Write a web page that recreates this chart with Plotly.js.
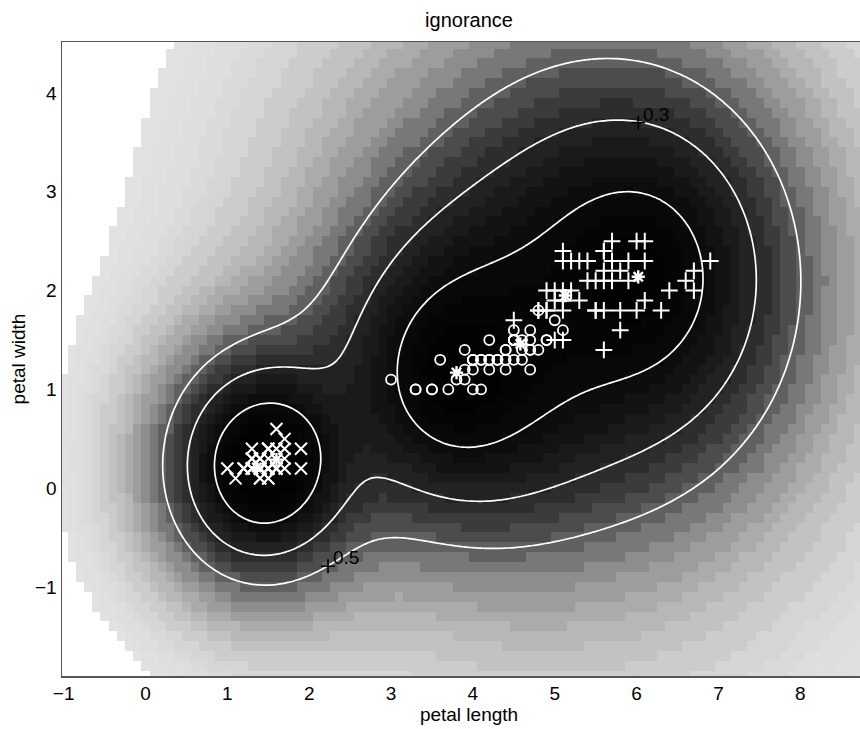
<!DOCTYPE html>
<html>
<head>
<meta charset="utf-8">
<script src="https://cdn.plot.ly/plotly-3.0.1.min.js"></script>
<style>
  html, body { margin: 0; padding: 0; overflow: hidden; background: #fff; }
  #chart { width: 876px; height: 729px; }
</style>
</head>
<body>
<div id="chart"></div>
<script>
// Iris petal measurements (cm), one pair of arrays per species
const setosaLength = [1.4,1.4,1.3,1.5,1.4,1.7,1.4,1.5,1.4,1.5,1.5,1.6,1.4,1.1,1.2,1.5,1.3,1.4,1.7,1.5,1.7,1.5,1.0,1.7,1.9,1.6,1.6,1.5,1.4,1.6,1.6,1.5,1.5,1.4,1.5,1.2,1.3,1.4,1.3,1.5,1.3,1.3,1.3,1.6,1.9,1.4,1.6,1.4,1.5,1.4];
const setosaWidth  = [0.2,0.2,0.2,0.2,0.2,0.4,0.3,0.2,0.2,0.1,0.2,0.2,0.1,0.1,0.2,0.4,0.4,0.3,0.3,0.3,0.2,0.4,0.2,0.5,0.2,0.2,0.4,0.2,0.2,0.2,0.2,0.4,0.1,0.2,0.2,0.2,0.2,0.1,0.2,0.2,0.3,0.3,0.2,0.6,0.4,0.3,0.2,0.2,0.2,0.2];
const versicolorLength = [4.7,4.5,4.9,4.0,4.6,4.5,4.7,3.3,4.6,3.9,3.5,4.2,4.0,4.7,3.6,4.4,4.5,4.1,4.5,3.9,4.8,4.0,4.9,4.7,4.3,4.4,4.8,5.0,4.5,3.5,3.8,3.7,3.9,5.1,4.5,4.5,4.7,4.4,4.1,4.0,4.4,4.6,4.0,3.3,4.2,4.2,4.2,4.3,3.0,4.1];
const versicolorWidth  = [1.4,1.5,1.5,1.3,1.5,1.3,1.6,1.0,1.3,1.4,1.0,1.5,1.0,1.4,1.3,1.4,1.5,1.0,1.5,1.1,1.8,1.3,1.5,1.2,1.3,1.4,1.4,1.7,1.5,1.0,1.1,1.0,1.2,1.6,1.5,1.6,1.5,1.3,1.3,1.3,1.2,1.4,1.2,1.0,1.3,1.2,1.3,1.3,1.1,1.3];
const virginicaLength = [6.0,5.1,5.9,5.6,5.8,6.6,4.5,6.3,5.8,6.1,5.1,5.3,5.5,5.0,5.1,5.3,5.5,6.7,6.9,5.0,5.7,4.9,6.7,4.9,5.7,6.0,4.8,4.9,5.6,5.8,6.1,6.4,5.6,5.1,5.6,6.1,5.6,5.5,4.8,5.4,5.6,5.1,5.1,5.9,5.7,5.2,5.0,5.2,5.4,5.1];
const virginicaWidth  = [2.5,1.9,2.1,1.8,2.2,2.1,1.7,1.8,1.8,2.5,2.0,1.9,2.1,2.0,2.4,2.3,1.8,2.2,2.3,1.5,2.3,2.0,2.0,1.8,2.1,1.8,1.8,1.8,2.1,1.6,1.9,2.0,2.2,1.5,1.4,2.3,2.4,1.8,1.8,2.1,2.4,2.3,1.9,2.3,2.5,2.3,1.9,2.0,2.3,1.8];

// Prototypes of the evidential classifier (two per class) and their kernel parameters
const protoX     = [1.36, 1.60, 3.80, 4.58, 5.13, 6.02];
const protoY     = [0.21, 0.29, 1.17, 1.46, 1.95, 2.14];
const protoAlpha = [1.0000, 1.0000, 1.0000, 0.3851, 0.6390, 0.9715];
const protoGamma = [0.5769, 2.6072, 0.4694, 0.6703, 0.0899, 0.3129];

// Iso-ignorance lines and where two of them are labelled
const contourLevels = [0.1, 0.3, 0.5];
const labelX = [6.02, 2.23];
const labelY = [3.70, -0.79];
const labelLevel = [0.3, 0.5];

// Grey shading: band upper bounds in ignorance, and the grey ramp (0 black, 1 white)
const bandTop = [0.03, 0.06, 0.10, 0.14, 0.19, 0.24, 0.30, 0.36, 0.42, 0.48, 0.54, 0.60,
                 0.65, 0.70, 0.74, 0.78, 0.82, 0.86, 0.89, 0.91, 0.93, 0.945, 0.955];
const rampZ    = [0, 0.10, 0.30, 0.40, 0.50, 0.60, 0.70, 0.80, 0.87, 0.92, 0.955];
const rampGrey = [0, 0.04, 0.15, 0.24, 0.36, 0.52, 0.65, 0.76, 0.83, 0.87, 0.89];

const xTicks = [-1, 0, 1, 2, 3, 4, 5, 6, 7, 8];
const yTicks = [-1, 0, 1, 2, 3, 4];

const FONT = 'Liberation Sans, Arial, Helvetica, sans-serif';

// Mass left on the whole frame: product of each prototype's ignorance term
function ignorance(x, y) {
  let m = 1;
  for (let i = 0; i < protoX.length; i++) {
    const dx = x - protoX[i], dy = y - protoY[i];
    m *= 1 - protoAlpha[i] * Math.exp(-protoGamma[i] * (dx * dx + dy * dy));
  }
  return m;
}

function grid(x0, x1, y0, y1, step) {
  const xs = [], ys = [];
  const nx = Math.round((x1 - x0) / step), ny = Math.round((y1 - y0) / step);
  for (let i = 0; i <= nx; i++) xs.push(+(x0 + i * step).toFixed(3));
  for (let j = 0; j <= ny; j++) ys.push(+(y0 + j * step).toFixed(3));
  return { xs, ys };
}

function rampAt(z) {
  for (let k = 1; k < rampZ.length; k++) {
    if (z <= rampZ[k]) {
      const t = (z - rampZ[k - 1]) / (rampZ[k] - rampZ[k - 1]);
      return rampGrey[k - 1] + t * (rampGrey[k] - rampGrey[k - 1]);
    }
  }
  return rampGrey[rampGrey.length - 1];
}

// coarse cells for the shaded image; beyond the last band the paper shows through
const whiteAbove = bandTop[bandTop.length - 1];
const cells = grid(-1.0, 9.0, -1.9, 4.5, 0.1);
const zCells = cells.ys.map(y => cells.xs.map(x => {
  const v = ignorance(x, y);
  return v > whiteAbove ? null : v;
}));

// finer sampling for the iso-lines
const fine = grid(-1.05, 8.95, -1.95, 4.55, 0.04);
const zFine = fine.ys.map(y => fine.xs.map(x => ignorance(x, y)));

// stepped grey colour scale, one flat step per band
const greyScale = [];
let lo = 0;
bandTop.forEach(hi => {
  const g = Math.round(255 * rampAt((lo + hi) / 2));
  const c = `rgb(${g},${g},${g})`;
  greyScale.push([lo / whiteAbove, c], [hi / whiteAbove, c]);
  lo = hi;
});

const shade = {
  type: 'heatmap', x: cells.xs, y: cells.ys, z: zCells,
  zmin: 0, zmax: whiteAbove, colorscale: greyScale,
  zsmooth: false, showscale: false, hoverinfo: 'skip'
};

const isoLines = {
  type: 'contour', x: fine.xs, y: fine.ys, z: zFine,
  autocontour: false,
  contours: {
    start: contourLevels[0],
    end: contourLevels[contourLevels.length - 1],
    size: contourLevels[1] - contourLevels[0],
    coloring: 'none'
  },
  line: { color: 'white', width: 1.7, smoothing: 1 },
  showscale: false, hoverinfo: 'skip'
};

function species(x, y, symbol, size, width) {
  return {
    type: 'scatter', mode: 'markers', x, y, hoverinfo: 'skip',
    marker: { symbol, size, color: 'white', line: { color: 'white', width } }
  };
}

const setosa     = species(setosaLength, setosaWidth, 'x-thin-open', 12, 2);
const versicolor = species(versicolorLength, versicolorWidth, 'circle-open', 10, 1.8);
const virginica  = species(virginicaLength, virginicaWidth, 'cross-thin-open', 12, 2);
const prototypes = species(protoX, protoY, 'asterisk-open', 11, 2.4);

const labelMarks = {
  type: 'scatter', mode: 'markers', x: labelX, y: labelY, hoverinfo: 'skip',
  marker: { symbol: 'cross-thin-open', size: 10, color: '#000', line: { color: '#000', width: 1.6 } }
};

const labelNotes = labelX.map((x, k) => ({
  x, y: labelY[k], xref: 'x', yref: 'y',
  text: labelLevel[k].toFixed(1), showarrow: false,
  xanchor: 'left', yanchor: 'bottom', xshift: 3, yshift: -4,
  font: { family: FONT, size: 19, color: '#000' }
}));

const axisCommon = {
  showgrid: false, zeroline: false, showline: true,
  linecolor: '#555', linewidth: 1.5, ticks: '',
  tickfont: { family: FONT, size: 19, color: '#000' }
};

const layout = {
  width: 876, height: 729,
  margin: { l: 62, r: 0, t: 42, b: 53 },
  paper_bgcolor: '#fff', plot_bgcolor: '#fff',
  showlegend: false,
  font: { family: FONT, color: '#000', size: 19 },
  title: {
    text: 'ignorance', font: { family: FONT, size: 20, color: '#000' },
    xref: 'paper', x: 0.5, xanchor: 'center',
    yref: 'container', y: 1 - 20 / 729, yanchor: 'middle'
  },
  annotations: labelNotes,
  xaxis: Object.assign({}, axisCommon, {
    range: [-1.02, 8.925], tickvals: xTicks, mirror: true,
    title: { text: 'petal length', standoff: 4, font: { family: FONT, size: 19, color: '#000' } }
  }),
  yaxis: Object.assign({}, axisCommon, {
    range: [-1.9, 4.516], tickvals: yTicks, mirror: true,
    title: { text: 'petal width', standoff: 4, font: { family: FONT, size: 19, color: '#000' } }
  })
};

Plotly.newPlot('chart',
  [shade, isoLines, setosa, versicolor, virginica, prototypes, labelMarks],
  layout, { staticPlot: true, displayModeBar: false });
</script>
</body>
</html>
